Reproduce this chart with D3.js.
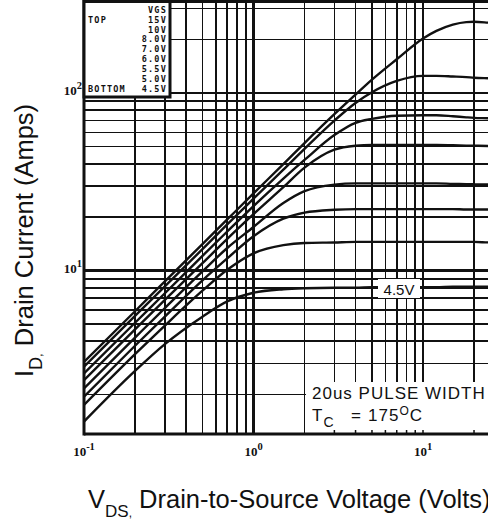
<!DOCTYPE html>
<html lang="en">
<head>
<meta charset="UTF-8">
<title>Typical Output Characteristics</title>
<style>
  body { margin: 0; padding: 0; background: white; }
  svg { display: block; }
  .grid line { stroke: #111; shape-rendering: crispEdges; }
  .curve { fill: none; stroke: #111; stroke-width: 2.4; }
  .tick-label { font-family: "Liberation Serif", serif; font-size: 13px; font-weight: bold; fill: #111; }
  .legend-text { font-family: "DejaVu Sans Mono", monospace; font-size: 8.5px; font-weight: bold; fill: #111; letter-spacing: 1.2px; }
  .axis-title { font-family: "Liberation Sans", Arial, sans-serif; font-size: 25.5px; fill: #111; }
  .note { font-family: "Liberation Sans", Arial, sans-serif; font-size: 17px; fill: #111; letter-spacing: 1px; }
</style>
</head>
<body>
<div id="chart"></div>
<script src="https://d3js.org/d3.v7.min.js"></script>
<script>
// drain-source voltage samples (V)
var vds = [0.1, 0.2, 0.3, 0.5, 0.7, 1, 1.5, 2, 3, 4, 5, 7, 10, 12, 15, 18, 20, 25, 30];

// drain current (A) for each gate voltage
var id15V  = [3.06, 5.9, 8.7, 14.1, 19.4, 27.2, 39.8, 52.3, 76, 98, 119, 155, 203, 224, 243, 251, 252, 249, 247];
var id10V  = [2.87, 5.55, 8.15, 13.2, 18.2, 25.4, 37, 48.5, 70, 88, 101, 117, 125, 125, 124, 123, 122, 121, 120];
var id8V   = [2.63, 5.08, 7.45, 12.1, 16.6, 23.1, 33, 42, 58, 68, 71.5, 74.5, 75, 75, 74, 73, 72.5, 72, 71];
var id7V   = [2.41, 4.66, 6.84, 11.0, 15.1, 20.8, 29.5, 38, 48, 50.5, 51, 51, 51, 51, 50.8, 50.6, 50.5, 50.3, 50];
var id6V   = [2.17, 4.19, 6.15, 9.9, 13.4, 17.6, 24, 28, 30.5, 31, 31, 31, 31, 31, 30.8, 30.7, 30.6, 30.5, 30.4];
var id5V5  = [1.95, 3.77, 5.5, 8.8, 11.7, 15.6, 19.6, 21.2, 22, 22.2, 22.2, 22.2, 22.2, 22.2, 22.2, 22.1, 22.1, 22.1, 22];
var id5V   = [1.75, 3.38, 4.9, 7.7, 10.1, 12.5, 13.9, 14.3, 14.4, 14.5, 14.5, 14.5, 14.5, 14.5, 14.5, 14.5, 14.5, 14.4, 14.4];
var id4V5  = [1.41, 2.72, 3.85, 5.5, 6.7, 7.5, 7.85, 7.95, 8.0, 8.0, 8.05, 8.05, 8.05, 8.05, 8.1, 8.1, 8.1, 8.1, 8.1];

var legendTitle = "VGS";
var vgsLabels = ["15V", "10V", "8.0V", "7.0V", "6.0V", "5.5V", "5.0V", "4.5V"];
var xTicks = [0.1, 1, 10];
var xTickExp = ["-1", "0", "1"];
var yTicks = [10, 100];
var yTickExp = ["1", "2"];

var series = [id15V, id10V, id8V, id7V, id6V, id5V5, id5V, id4V5];

var W = 488, H = 527;
var pLeft = 84, pTop = 1.5, pBottom = 434, pRight = 592.5;

var svg = d3.select("#chart").append("svg")
  .attr("width", W).attr("height", H);

var x = d3.scaleLog().domain([0.1, 100]).range([pLeft, pRight]);
var y = d3.scaleLog().domain([1.2, 328]).range([pBottom, pTop]);

svg.append("clipPath").attr("id", "plot-clip")
  .append("rect").attr("x", pLeft).attr("y", pTop)
  .attr("width", pRight - pLeft).attr("height", pBottom - pTop);

// grid lines
var xGrid = [], yGrid = [];
[0.1, 1, 10].forEach(function(d) {
  for (var k = 1; k <= 9; k++) { var v = +(k * d).toPrecision(3); if (v <= 30) xGrid.push(v); }
});
[1, 10, 100].forEach(function(d) {
  for (var k = 1; k <= 9; k++) { var v = k * d; if (v >= 1.2 && v <= 328) yGrid.push(v); }
});
function isDecade(v) { return Math.abs(Math.log10(v) - Math.round(Math.log10(v))) < 1e-6; }

var grid = svg.append("g").attr("class", "grid").attr("clip-path", "url(#plot-clip)");
grid.selectAll(".vx").data(xGrid).enter().append("line")
  .attr("x1", d => x(d)).attr("x2", d => x(d))
  .attr("y1", pTop).attr("y2", pBottom)
  .attr("stroke-width", d => isDecade(d) ? 2.6 : 1.7);
grid.selectAll(".hy").data(yGrid).enter().append("line")
  .attr("x1", pLeft).attr("x2", pRight)
  .attr("y1", d => y(d)).attr("y2", d => y(d))
  .attr("stroke-width", d => isDecade(d) ? 2.6 : 1.7);

// white box behind the pulse note
svg.append("rect").attr("x", x(2) + 1.5).attr("y", 382)
  .attr("width", W).attr("height", pBottom - 382).attr("fill", "white");

// curves
var line = d3.line()
  .x((d, i) => x(vds[i]))
  .y(d => y(d))
  .curve(d3.curveMonotoneX);

svg.append("g").attr("clip-path", "url(#plot-clip)")
  .selectAll("path").data(series).enter().append("path")
  .attr("class", "curve")
  .attr("d", d => line(d));

// frame
svg.append("line").attr("x1", pLeft).attr("x2", pLeft).attr("y1", 0).attr("y2", pBottom + 1.5)
  .attr("stroke", "#111").attr("stroke-width", 3);
svg.append("line").attr("x1", pLeft).attr("x2", W).attr("y1", pBottom).attr("y2", pBottom)
  .attr("stroke", "#111").attr("stroke-width", 3);
svg.append("line").attr("x1", pLeft).attr("x2", W).attr("y1", pTop).attr("y2", pTop)
  .attr("stroke", "#111").attr("stroke-width", 3);

// short ticks along bottom axis
svg.append("g").selectAll("line").data(xGrid.filter(d => d > 2)).enter().append("line")
  .attr("x1", d => x(d)).attr("x2", d => x(d))
  .attr("y1", pBottom - 4).attr("y2", pBottom)
  .attr("stroke", "#111").attr("stroke-width", 1.5);

// legend box
var lg = svg.append("g");
lg.append("rect").attr("x", pLeft).attr("y", pTop)
  .attr("width", 170 - pLeft).attr("height", 97 - pTop)
  .attr("fill", "white").attr("stroke", "#111").attr("stroke-width", 3);
lg.append("text").attr("class", "legend-text").attr("x", 167).attr("y", 13)
  .attr("text-anchor", "end").text(legendTitle);
lg.selectAll(".vg").data(vgsLabels).enter().append("text")
  .attr("class", "legend-text").attr("x", 167)
  .attr("y", (d, i) => 22.6 + i * 9.9)
  .attr("text-anchor", "end").text(d => d);
lg.append("text").attr("class", "legend-text").attr("x", 88).attr("y", 22.6).text("TOP");
lg.append("text").attr("class", "legend-text").attr("x", 88).attr("y", 22.6 + 7 * 9.9).text("BOTTOM");

// 4.5V label on the bottom curve
var lbl = svg.append("g");
lbl.append("rect").attr("x", 378).attr("y", 279).attr("width", 42).attr("height", 19).attr("fill", "white");
lbl.append("text").attr("x", 399).attr("y", 295).attr("text-anchor", "middle")
  .attr("font-family", "Liberation Sans, Arial, sans-serif").attr("font-size", 15)
  .attr("fill", "#111").text(vgsLabels[7]);

// tick labels
var tl = svg.append("g");
xTicks.forEach(function(t, i) {
  var tx = tl.append("text").attr("class", "tick-label")
    .attr("x", x(t)).attr("y", 456).attr("text-anchor", "middle");
  tx.append("tspan").text("10");
  tx.append("tspan").attr("dy", -6).attr("font-size", 10.5).text(xTickExp[i]);
});
yTicks.forEach(function(t, i) {
  var ty = tl.append("text").attr("class", "tick-label")
    .attr("x", 82).attr("y", y(t) + 2).attr("text-anchor", "end");
  ty.append("tspan").text("10");
  ty.append("tspan").attr("dy", -6).attr("font-size", 10.5).text(yTickExp[i]);
});

// axis titles
var xt = svg.append("text").attr("class", "axis-title").attr("x", 88).attr("y", 508);
xt.append("tspan").text("V");
xt.append("tspan").attr("dy", 9).attr("font-size", 17).text("DS");
xt.append("tspan").attr("font-size", 12).text(",");
xt.append("tspan").attr("dy", -9).text(" Drain-to-Source Voltage (Volts)");

var yt = svg.append("text").attr("class", "axis-title")
  .attr("font-size", 27.5)
  .attr("transform", "translate(33,377) rotate(-90)");
yt.append("tspan").text("I");
yt.append("tspan").attr("dy", 9).attr("font-size", 18).text("D");
yt.append("tspan").attr("font-size", 13).text(",");
yt.append("tspan").attr("dy", -9).text(" Drain Current (Amps)");

// pulse note
svg.append("text").attr("class", "note").attr("x", 312).attr("y", 399).text("20us PULSE WIDTH");
var tc = svg.append("text").attr("class", "note").attr("x", 312).attr("y", 421);
tc.append("tspan").text("T");
tc.append("tspan").attr("dy", 6).attr("font-size", 14).text("C");
tc.append("tspan").attr("dy", -6).attr("x", 351).text("=");
tc.append("tspan").attr("x", 368).text("175");
tc.append("tspan").attr("dy", -6).attr("font-size", 12).text("O");
tc.append("tspan").attr("dy", 6).text("C");
</script>
</body>
</html>
